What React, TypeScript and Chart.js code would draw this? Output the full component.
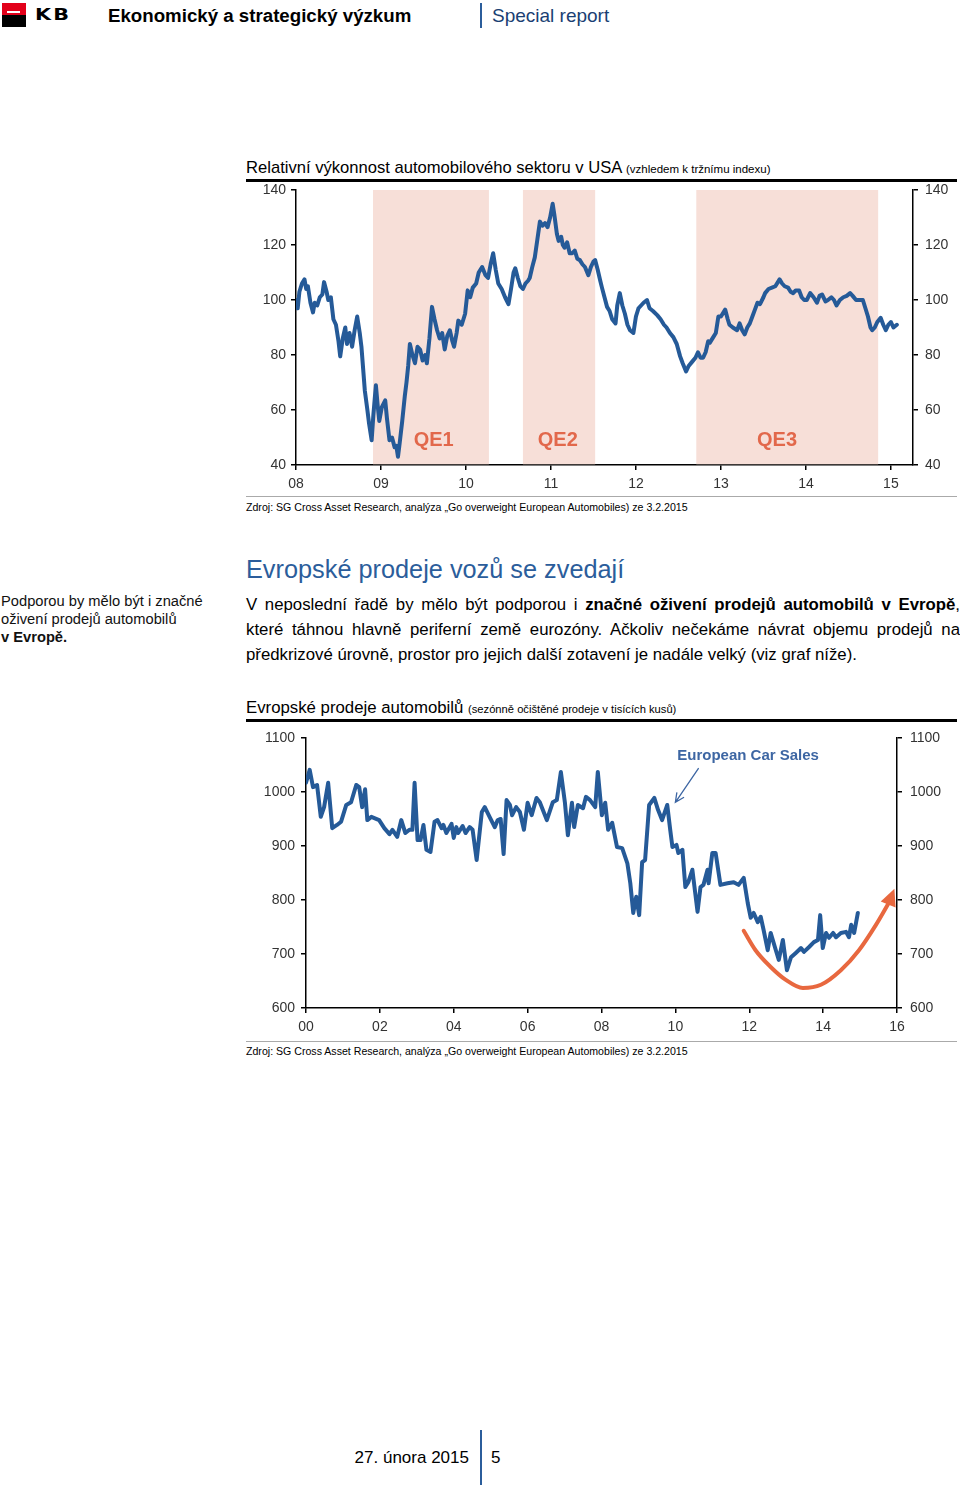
import React, { useEffect, useRef } from 'react';
import { Chart, registerables } from 'chart.js';
Chart.register(...registerables);

const FONT = '"Liberation Sans", Arial, Helvetica, sans-serif';
const BLUE = '#255a98';
const QE_FILL = '#f7dfd8';
const QE_TEXT = '#e2684b';
const ORANGE = '#e8683f';

// ---------- Chart 1: US auto sector relative performance ----------
const usYears = [
  2008.00, 2008.02, 2008.04, 2008.07, 2008.10, 2008.12, 2008.14, 2008.17, 2008.20, 2008.22,
  2008.25, 2008.28, 2008.31, 2008.33, 2008.36, 2008.38, 2008.41, 2008.44, 2008.47, 2008.50,
  2008.52, 2008.55, 2008.58, 2008.60, 2008.63, 2008.66, 2008.69, 2008.72, 2008.75, 2008.77,
  2008.79, 2008.81, 2008.84, 2008.86, 2008.89, 2008.91, 2008.94, 2008.96, 2008.98, 2009.01,
  2009.05, 2009.07, 2009.10, 2009.13, 2009.16, 2009.18, 2009.20, 2009.22, 2009.25, 2009.28,
  2009.30, 2009.32, 2009.34, 2009.37, 2009.40, 2009.43, 2009.46, 2009.49, 2009.52, 2009.54,
  2009.57, 2009.60, 2009.63, 2009.66, 2009.69, 2009.72, 2009.75, 2009.78, 2009.81, 2009.84,
  2009.86, 2009.89, 2009.91, 2009.95, 2009.99, 2010.02, 2010.05, 2010.08, 2010.12, 2010.15,
  2010.19, 2010.23, 2010.26, 2010.29, 2010.32, 2010.35, 2010.38, 2010.42, 2010.46, 2010.50,
  2010.53, 2010.56, 2010.58, 2010.61, 2010.64, 2010.67, 2010.70, 2010.73, 2010.75, 2010.78,
  2010.81, 2010.84, 2010.87, 2010.90, 2010.93, 2010.96, 2010.99, 2011.02, 2011.04, 2011.07,
  2011.09, 2011.12, 2011.14, 2011.16, 2011.19, 2011.22, 2011.25, 2011.28, 2011.31, 2011.34,
  2011.37, 2011.40, 2011.44, 2011.47, 2011.50, 2011.52, 2011.55, 2011.58, 2011.60, 2011.63,
  2011.66, 2011.69, 2011.72, 2011.76, 2011.78, 2011.81, 2011.84, 2011.87, 2011.90, 2011.93,
  2011.97, 2012.00, 2012.03, 2012.06, 2012.09, 2012.13, 2012.16, 2012.20, 2012.25, 2012.29,
  2012.33, 2012.36, 2012.40, 2012.44, 2012.48, 2012.52, 2012.55, 2012.59, 2012.62, 2012.66,
  2012.70, 2012.73, 2012.76, 2012.79, 2012.82, 2012.85, 2012.87, 2012.91, 2012.94, 2012.97,
  2013.00, 2013.05, 2013.08, 2013.10, 2013.14, 2013.19, 2013.22, 2013.25, 2013.28, 2013.31,
  2013.34, 2013.37, 2013.40, 2013.43, 2013.46, 2013.50, 2013.52, 2013.56, 2013.60, 2013.64,
  2013.69, 2013.72, 2013.75, 2013.79, 2013.82, 2013.85, 2013.88, 2013.92, 2013.95, 2013.98,
  2014.01, 2014.05, 2014.09, 2014.13, 2014.16, 2014.19, 2014.23, 2014.26, 2014.30, 2014.33,
  2014.36, 2014.40, 2014.44, 2014.48, 2014.52, 2014.55, 2014.59, 2014.63, 2014.67, 2014.70,
  2014.73, 2014.76, 2014.78, 2014.81, 2014.84, 2014.88, 2014.91, 2014.94, 2014.97, 2015.00,
  2015.03, 2015.07,
];
const usValues = [
  100, 97, 103, 106, 107.5, 104, 105, 99, 95.5, 99,
  98, 101, 102, 106.5, 103, 100, 101, 93, 91, 85,
  79.5, 86, 90, 84, 88, 83, 89, 94, 88, 83,
  75, 67, 60, 55, 49, 58, 69, 62, 56, 61,
  63.5, 57, 49, 50, 46.5, 47, 43, 48, 56, 65,
  70, 76, 84, 80, 77, 83, 82, 78, 80, 77,
  86, 97.5, 93, 89, 86, 88, 82, 87, 89, 85,
  83, 88, 92.5, 91, 95, 103.5, 101, 104.5, 106, 110,
  112, 109, 108, 113, 117, 111, 106, 104, 101, 98.5,
  104, 110, 111.5, 108, 105, 104, 106, 107, 108, 112,
  115.5, 122, 128.5, 127, 128, 126.5, 130, 135, 131, 124,
  121.5, 123, 120, 119, 121, 117, 117, 118, 115, 114.5,
  113, 112, 109, 112, 114, 114.5, 111, 107, 104.5, 101,
  97.5, 96, 93, 91.5, 98, 102.5, 98, 95, 91, 89,
  88, 94, 97, 98, 99, 100, 97, 96, 94.5, 93,
  91, 90, 88, 86.5, 84, 79.5, 77, 74, 76, 77.5,
  79, 81, 79, 79, 81, 85, 84.5, 86.5, 88, 94,
  94, 96.5, 93, 91, 90, 89, 91.5, 89, 87.5, 90,
  91.5, 94, 96.5, 99, 98.5, 101, 102.5, 104, 104.5, 105,
  107.5, 106, 105, 104.5, 103, 102.5, 103.5, 103.5, 101, 100,
  100, 102.5, 101, 99, 101.5, 102, 99.5, 100, 101, 100,
  98, 100, 101, 101.5, 102.5, 101.5, 100, 100, 100, 97,
  94, 90, 89, 90, 92, 93.5, 91, 89, 91, 92,
  90, 91,
];
const usXMin = 2008;
const usXMax = 2015.26;
const usXTicks = [2008, 2009, 2010, 2011, 2012, 2013, 2014, 2015];
const usYTicks = [40, 60, 80, 100, 120, 140];
const qeNames = ['QE1', 'QE2', 'QE3'];
const qeStarts = [2008.906, 2010.67, 2012.71];
const qeEnds = [2010.27, 2011.52, 2014.85];
const qeLabelYears = [2009.62, 2011.08, 2013.66];
const qeLabelValue = 48.8;

// ---------- Chart 2: European car sales ----------
const euYears = [
  2000.00, 2000.10, 2000.19, 2000.30, 2000.40, 2000.49, 2000.60, 2000.71, 2000.84, 2000.95,
  2001.09, 2001.22, 2001.36, 2001.44, 2001.52, 2001.60, 2001.66, 2001.77, 2001.98, 2002.12,
  2002.26, 2002.34, 2002.47, 2002.58, 2002.69, 2002.80, 2002.88, 2002.94, 2003.02, 2003.10,
  2003.18, 2003.26, 2003.37, 2003.48, 2003.56, 2003.67, 2003.72, 2003.80, 2003.94, 2004.00,
  2004.07, 2004.12, 2004.24, 2004.32, 2004.43, 2004.51, 2004.62, 2004.76, 2004.84, 2004.97,
  2005.11, 2005.19, 2005.27, 2005.35, 2005.43, 2005.52, 2005.58, 2005.69, 2005.79, 2005.90,
  2006.00, 2006.11, 2006.24, 2006.33, 2006.52, 2006.68, 2006.79, 2006.90, 2007.01, 2007.09,
  2007.20, 2007.26, 2007.36, 2007.50, 2007.58, 2007.69, 2007.83, 2007.90, 2008.01, 2008.10,
  2008.18, 2008.29, 2008.42, 2008.56, 2008.70, 2008.78, 2008.86, 2008.94, 2009.02, 2009.10,
  2009.18, 2009.29, 2009.43, 2009.53, 2009.64, 2009.78, 2009.86, 2009.92, 2010.03, 2010.08,
  2010.19, 2010.27, 2010.35, 2010.46, 2010.60, 2010.68, 2010.76, 2010.87, 2010.90, 2011.00,
  2011.09, 2011.22, 2011.41, 2011.58, 2011.71, 2011.85, 2011.96, 2012.04, 2012.12, 2012.23,
  2012.31, 2012.39, 2012.50, 2012.58, 2012.72, 2012.80, 2012.91, 2013.02, 2013.13, 2013.26,
  2013.40, 2013.48, 2013.62, 2013.75, 2013.86, 2013.92, 2013.99, 2014.08, 2014.16, 2014.27,
  2014.35, 2014.48, 2014.62, 2014.70, 2014.76, 2014.84, 2014.94,
];
const euValues = [
  1017, 1041, 1009, 1013, 954, 972, 1017, 933, 939, 945,
  976, 981, 1013, 1009, 972, 1005, 948, 954, 948, 933,
  922, 930, 917, 948, 924, 930, 930, 1017, 911, 911,
  939, 893, 889, 945, 948, 933, 939, 924, 941, 915,
  935, 924, 937, 924, 935, 930, 874, 963, 972, 954,
  935, 948, 950, 885, 985, 976, 957, 972, 963, 930,
  980, 957, 989, 981, 948, 981, 985, 1037, 980, 920,
  980, 935, 976, 970, 991, 985, 972, 1037, 957, 980,
  930, 943, 898, 896, 868, 831, 776, 806, 772, 870,
  874, 976, 989, 967, 948, 976, 930, 898, 902, 887,
  893, 824, 833, 856, 778, 824, 828, 856, 831, 887,
  887, 828, 831, 833, 828, 841, 794, 767, 776, 759,
  769, 744, 707, 739, 707, 689, 726, 670, 694, 702,
  711, 704, 713, 722, 726, 772, 711, 739, 730, 739,
  731, 739, 741, 731, 754, 739, 776,
];
const euXTicks = [2000, 2002, 2004, 2006, 2008, 2010, 2012, 2014, 2016];
const euYTicks = [600, 700, 800, 900, 1000, 1100];
// Orange "recovery" arc annotation
const arcYears = [2011.85, 2012.17, 2012.58, 2012.99, 2013.45, 2013.94, 2014.48, 2014.97, 2015.43, 2015.78];
const arcValues = [743, 707, 676, 652, 637, 643, 670, 707, 754, 795];
const arcTip = { year: 2015.93, value: 821 };
// "European Car Sales" callout
const calloutText = 'European Car Sales';
const calloutPos = { year: 2010.05, value: 1067 };
const calloutArrowFrom = { year: 2010.63, value: 1044 };
const calloutArrowTo = { year: 2010.0, value: 981 };

const axisCommon = {
  grid: { drawOnChartArea: false, drawTicks: true, tickLength: 5, color: '#000', lineWidth: 1.5 },
  border: { display: true, color: '#000', width: 1.5 },
};

function yearLabel(v: number) {
  return String(Math.round(v)).slice(2);
}
function plainLabel(v: any) {
  return String(v);
}

const qePlugin = {
  id: 'qe',
  beforeDatasetsDraw(chart: any) {
    const { ctx, chartArea, scales } = chart;
    const x = scales.x;
    const y = scales.y;
    ctx.save();
    ctx.fillStyle = QE_FILL;
    qeStarts.forEach((s, i) => {
      const x1 = x.getPixelForValue(s);
      const x2 = x.getPixelForValue(qeEnds[i]);
      ctx.fillRect(x1, chartArea.top, x2 - x1, chartArea.bottom - chartArea.top - 0.75);
    });
    ctx.fillStyle = QE_TEXT;
    ctx.font = `bold 20px ${FONT}`;
    ctx.textAlign = 'center';
    ctx.textBaseline = 'middle';
    qeNames.forEach((n, i) => {
      ctx.fillText(n, x.getPixelForValue(qeLabelYears[i]), y.getPixelForValue(qeLabelValue));
    });
    ctx.restore();
  },
};

const euPlugin = {
  id: 'euAnno',
  afterDatasetsDraw(chart: any) {
    const { ctx, scales } = chart;
    const x = scales.x;
    const y = scales.y;
    ctx.save();
    // orange arrowhead
    const n = arcYears.length;
    const bx = x.getPixelForValue(arcYears[n - 1]);
    const by = y.getPixelForValue(arcValues[n - 1]);
    const tx = x.getPixelForValue(arcTip.year);
    const ty = y.getPixelForValue(arcTip.value);
    const ang = Math.atan2(ty - by, tx - bx);
    const L = 17;
    const W = 8;
    const cx = tx - L * Math.cos(ang);
    const cy = ty - L * Math.sin(ang);
    ctx.fillStyle = ORANGE;
    ctx.beginPath();
    ctx.moveTo(tx, ty);
    ctx.lineTo(cx + W * Math.sin(ang), cy - W * Math.cos(ang));
    ctx.lineTo(cx - W * Math.sin(ang), cy + W * Math.cos(ang));
    ctx.closePath();
    ctx.fill();
    // callout text
    ctx.fillStyle = '#3d66a3';
    ctx.font = `bold 15px ${FONT}`;
    ctx.textAlign = 'left';
    ctx.textBaseline = 'middle';
    ctx.fillText(calloutText, x.getPixelForValue(calloutPos.year), y.getPixelForValue(calloutPos.value));
    // callout arrow
    const ax = x.getPixelForValue(calloutArrowFrom.year);
    const ay = y.getPixelForValue(calloutArrowFrom.value);
    const ex = x.getPixelForValue(calloutArrowTo.year);
    const ey = y.getPixelForValue(calloutArrowTo.value);
    ctx.strokeStyle = '#3d66a3';
    ctx.lineWidth = 1.3;
    ctx.beginPath();
    ctx.moveTo(ax, ay);
    ctx.lineTo(ex, ey);
    const a2 = Math.atan2(ey - ay, ex - ax);
    const h = 10;
    ctx.moveTo(ex - h * Math.cos(a2 - 0.45), ey - h * Math.sin(a2 - 0.45));
    ctx.lineTo(ex, ey);
    ctx.lineTo(ex - h * Math.cos(a2 + 0.45), ey - h * Math.sin(a2 + 0.45));
    ctx.stroke();
    ctx.restore();
  },
};

function UsChart() {
  const ref = useRef<HTMLCanvasElement>(null);
  useEffect(() => {
    if (!ref.current) return;
    const tickFont = { family: FONT, size: 14 };
    const chart = new Chart(ref.current, {
      type: 'line',
      data: {
        datasets: [
          {
            data: usYears.map((xv, i) => ({ x: xv, y: usValues[i] })),
            borderColor: BLUE,
            borderWidth: 4,
            pointRadius: 0,
            tension: 0,
            borderJoinStyle: 'round',
            borderCapStyle: 'round',
          },
        ],
      },
      options: {
        animation: false,
        responsive: false,
        maintainAspectRatio: false,
        layout: { padding: { top: 20, left: 0, right: 0, bottom: 0 } },
        plugins: { legend: { display: false }, tooltip: { enabled: false } },
        scales: {
          x: {
            type: 'linear',
            min: usXMin,
            max: usXMax,
            ...axisCommon,
            afterBuildTicks: (s: any) => { s.ticks = usXTicks.map((v) => ({ value: v })); },
            afterFit: (s: any) => { s.height = 30; },
            ticks: { callback: (v: any) => yearLabel(v), font: tickFont, color: '#333', padding: 6, maxRotation: 0, autoSkip: false },
          },
          y: {
            type: 'linear',
            position: 'left',
            min: 40,
            max: 140,
            ...axisCommon,
            afterBuildTicks: (s: any) => { s.ticks = usYTicks.map((v) => ({ value: v })); },
            afterFit: (s: any) => { s.width = 56; },
            ticks: { callback: plainLabel, font: tickFont, color: '#333', padding: 5 },
          },
          y2: {
            type: 'linear',
            position: 'right',
            min: 40,
            max: 140,
            ...axisCommon,
            afterBuildTicks: (s: any) => { s.ticks = usYTicks.map((v) => ({ value: v })); },
            afterFit: (s: any) => { s.width = 47; },
            ticks: { callback: plainLabel, font: tickFont, color: '#333', padding: 7 },
          },
        },
      } as any,
      plugins: [qePlugin],
    } as any);
    return () => chart.destroy();
  }, []);
  return <canvas ref={ref} width={720} height={325} style={{ position: 'absolute', left: 240, top: 170, width: 720, height: 325 }} />;
}

function EuChart() {
  const ref = useRef<HTMLCanvasElement>(null);
  useEffect(() => {
    if (!ref.current) return;
    const tickFont = { family: FONT, size: 14 };
    const chart = new Chart(ref.current, {
      type: 'line',
      data: {
        datasets: [
          {
            data: euYears.map((xv, i) => ({ x: xv, y: euValues[i] })),
            borderColor: BLUE,
            borderWidth: 4,
            pointRadius: 0,
            tension: 0,
            borderJoinStyle: 'round',
            borderCapStyle: 'round',
          },
          {
            data: arcYears.map((xv, i) => ({ x: xv, y: arcValues[i] })),
            borderColor: ORANGE,
            borderWidth: 4,
            pointRadius: 0,
            cubicInterpolationMode: 'monotone',
            borderCapStyle: 'round',
          },
        ],
      },
      options: {
        animation: false,
        responsive: false,
        maintainAspectRatio: false,
        layout: { padding: { top: 20, left: 0, right: 0, bottom: 0 } },
        plugins: { legend: { display: false }, tooltip: { enabled: false } },
        scales: {
          x: {
            type: 'linear',
            min: 2000,
            max: 2016,
            ...axisCommon,
            afterBuildTicks: (s: any) => { s.ticks = euXTicks.map((v) => ({ value: v })); },
            afterFit: (s: any) => { s.height = 33; },
            ticks: { callback: (v: any) => yearLabel(v), font: tickFont, color: '#333', padding: 6, maxRotation: 0, autoSkip: false },
          },
          y: {
            type: 'linear',
            position: 'left',
            min: 600,
            max: 1100,
            ...axisCommon,
            afterBuildTicks: (s: any) => { s.ticks = euYTicks.map((v) => ({ value: v })); },
            afterFit: (s: any) => { s.width = 66; },
            ticks: { callback: plainLabel, font: tickFont, color: '#333', padding: 6 },
          },
          y2: {
            type: 'linear',
            position: 'right',
            min: 600,
            max: 1100,
            ...axisCommon,
            afterBuildTicks: (s: any) => { s.ticks = euYTicks.map((v) => ({ value: v })); },
            afterFit: (s: any) => { s.width = 63; },
            ticks: { callback: plainLabel, font: tickFont, color: '#333', padding: 8 },
          },
        },
      } as any,
      plugins: [euPlugin],
    } as any);
    return () => chart.destroy();
  }, []);
  return <canvas ref={ref} width={720} height={323} style={{ position: 'absolute', left: 240, top: 718, width: 720, height: 323 }} />;
}

const abs = (o: any) => ({ position: 'absolute' as const, fontFamily: FONT, whiteSpace: 'nowrap' as const, ...o });

export default function App() {
  return (
    <div style={{ position: 'absolute', left: 0, top: 0, width: 960, height: 1487, background: '#fff', fontFamily: FONT, color: '#000', overflow: 'hidden' }}>
      {/* Header */}
      <div style={abs({ left: 2, top: 3, width: 24, height: 12, background: '#e2001a' })} />
      <div style={abs({ left: 7, top: 11, width: 13, height: 2, background: '#fff' })} />
      <div style={abs({ left: 2, top: 15, width: 24, height: 12, background: '#000' })} />
      <div style={abs({ left: 35, top: 5, fontSize: 18, fontWeight: 'bold', letterSpacing: 2, lineHeight: '20px', fontFamily: '"DejaVu Sans", sans-serif', transform: 'scale(1.15, 0.85)', transformOrigin: 'left center' })}>KB</div>
      <div style={abs({ left: 108, top: 5, fontSize: 18.7, fontWeight: 'bold', lineHeight: '22px' })}>Ekonomický a strategický výzkum</div>
      <div style={abs({ left: 480, top: 3, width: 2, height: 25, background: '#2b5d9b' })} />
      <div style={abs({ left: 492, top: 5, fontSize: 19, lineHeight: '22px', color: '#1a3f73' })}>Special report</div>

      {/* Chart 1 */}
      <div style={abs({ left: 246, top: 158, fontSize: 16.6, lineHeight: '20px' })}>
        Relativní výkonnost automobilového sektoru v USA <span style={{ fontSize: 11.5 }}>(vzhledem k tržnímu indexu)</span>
      </div>
      <div style={abs({ left: 246, top: 179, width: 711, height: 3, background: '#000' })} />
      <UsChart />
      <div style={abs({ left: 246, top: 496, width: 711, height: 1, background: '#aaa' })} />
      <div style={abs({ left: 246, top: 501, fontSize: 10.6, lineHeight: '13px' })}>
        Zdroj: SG Cross Asset Research, analýza „Go overweight European Automobiles) ze 3.2.2015
      </div>

      {/* Text section */}
      <div style={abs({ left: 246, top: 554, fontSize: 25.3, lineHeight: '30px', color: '#2b5d9b' })}>Evropské prodeje vozů se zvedají</div>
      <div style={abs({ left: 1, top: 592, fontSize: 14.7, lineHeight: '18px', color: '#111' })}>
        Podporou by mělo být i značné<br />oživení prodejů automobilů<br /><b>v Evropě.</b>
      </div>
      <div style={{ position: 'absolute', left: 246, top: 592, width: 714, fontSize: 16.8, lineHeight: '25px', fontFamily: FONT }}>
        <div style={{ textAlign: 'justify', textAlignLast: 'justify' as any, whiteSpace: 'nowrap' }}>
          V neposlední řadě by mělo být podporou i <b>značné oživení prodejů automobilů v Evropě</b>,
        </div>
        <div style={{ textAlign: 'justify', textAlignLast: 'justify' as any, whiteSpace: 'nowrap' }}>
          které táhnou hlavně periferní země eurozóny. Ačkoliv nečekáme návrat objemu prodejů na
        </div>
        <div style={{ whiteSpace: 'nowrap' }}>předkrizové úrovně, prostor pro jejich další zotavení je nadále velký (viz graf níže).</div>
      </div>

      {/* Chart 2 */}
      <div style={abs({ left: 246, top: 698, fontSize: 16.8, lineHeight: '20px' })}>
        Evropské prodeje automobilů <span style={{ fontSize: 11.2 }}>(sezónně očištěné prodeje v tisících kusů)</span>
      </div>
      <div style={abs({ left: 246, top: 719, width: 711, height: 3, background: '#000' })} />
      <EuChart />
      <div style={abs({ left: 246, top: 1041, width: 711, height: 1, background: '#aaa' })} />
      <div style={abs({ left: 246, top: 1045, fontSize: 10.6, lineHeight: '13px' })}>
        Zdroj: SG Cross Asset Research, analýza „Go overweight European Automobiles) ze 3.2.2015
      </div>

      {/* Footer */}
      <div style={abs({ left: 300, width: 169, top: 1447, fontSize: 17, lineHeight: '22px', textAlign: 'right' })}>27. února 2015</div>
      <div style={abs({ left: 480, top: 1430, width: 2, height: 55, background: '#2b5d9b' })} />
      <div style={abs({ left: 491, top: 1447, fontSize: 17, lineHeight: '22px' })}>5</div>
    </div>
  );
}
